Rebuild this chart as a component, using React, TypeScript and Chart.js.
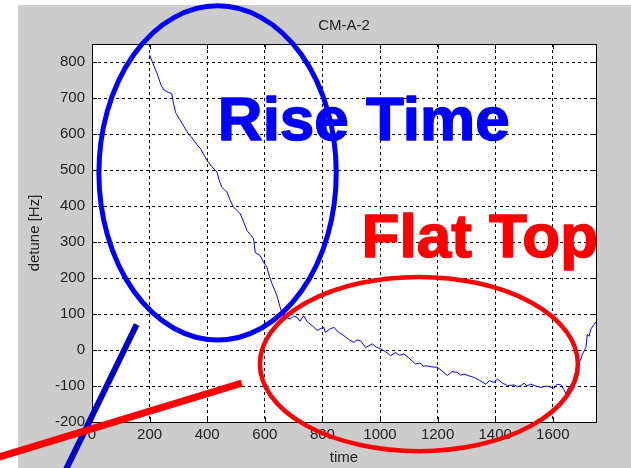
import React, { useEffect, useRef } from "react";
import { Chart, registerables } from "chart.js";

Chart.register(...registerables);

// ---- data ----
const timeValues = [
  200, 212, 225, 240, 250, 265, 277, 283, 290, 305, 320, 335, 345, 355, 365, 376, 390, 399, 415, 434,
  442, 451, 460, 469, 480, 491, 503, 515, 527, 538, 550, 561, 567, 584, 595, 607, 616, 625, 635, 642,
  650, 660, 670, 680, 689, 700, 712, 722, 735, 748, 764, 782, 795, 805, 810, 825, 840, 855, 874, 890,
  909, 920, 932, 950, 962, 973, 988, 1002, 1020, 1037, 1054, 1068, 1083, 1100, 1123, 1140, 1150, 1164, 1180, 1199,
  1215, 1234, 1250, 1268, 1280, 1292, 1310, 1326, 1345, 1367, 1380, 1395, 1408, 1425, 1443, 1465, 1478, 1489, 1500, 1510,
  1523, 1540, 1558, 1580, 1605, 1615, 1628, 1640, 1645, 1655, 1669, 1686, 1695, 1703, 1715, 1720, 1726, 1732, 1742, 1753,
];
const detuneValues = [
  820, 795, 770, 735, 722, 716, 712, 685, 660, 640, 620, 600, 592, 580, 570, 560, 540, 527, 510, 494,
  470, 452, 445, 438, 415, 397, 388, 378, 355, 332, 320, 309, 271, 262, 245, 230, 205, 184, 165, 151,
  128, 100, 92, 88, 86, 94, 91, 80, 95, 78, 68, 54, 60, 63, 49, 58, 63, 50, 40, 30,
  21, 28, 26, 7, 12, 17, 8, 3, -5, -16, -7, -15, -11, -22, -39, -36, -45, -44, -47, -48,
  -58, -71, -60, -62, -70, -67, -72, -76, -84, -95, -85, -90, -81, -92, -99, -97, -102, -99, -92, -100,
  -95, -100, -104, -100, -106, -95, -97, -112, -122, -105, -90, -39, -30, -11, 7, 44, 38, 58, 70, 81,
];

const titleText = "CM-A-2";
const xAxisLabel = "time";
const yAxisLabel = "detune [Hz]";
const xRange = [0, 1750];
const yRange = [-200, 850];
const xStep = 200;
const yStep = 100;

// annotation overlays, in data units: [cx, cy, rx, ry] and [x1, y1, x2, y2]
const riseEllipse = [436, 492, 412, 464];
const flatEllipse = [1135, -39, 552, 242];
const blueStroke = [-108, -361, 155, 71];
const redStroke = [-354, -305, 520, -92];
const riseLabel = { text: "Rise Time", x: 437, y: 583 };
const flatLabel = { text: "Flat Top", x: 936, y: 259 };

const TEXT = "#222222";
const FONT = "'Liberation Sans', Arial, sans-serif";

const framePlugin = {
  id: "matlabFrame",
  beforeDraw(chart: any) {
    const { ctx, width, height, chartArea: a } = chart;
    ctx.save();
    ctx.fillStyle = "#ffffff";
    ctx.fillRect(0, 0, width, height);
    ctx.fillStyle = "#cccccc";
    ctx.fillRect(18, 5, width - 18, height - 5);
    ctx.fillStyle = "#ffffff";
    ctx.fillRect(a.left, a.top, a.right - a.left, a.bottom - a.top);
    ctx.restore();
  },
  afterDatasetsDraw(chart: any) {
    const { ctx, chartArea: a, scales } = chart;
    const xs = scales.x;
    const ys = scales.y;
    ctx.save();
    ctx.strokeStyle = "#000000";
    ctx.lineWidth = 1;
    ctx.setLineDash([]);
    ctx.beginPath();
    const tl = 5;
    xs.ticks.forEach((t: any) => {
      const px = Math.round(xs.getPixelForValue(t.value)) + 0.5;
      ctx.moveTo(px, a.bottom);
      ctx.lineTo(px, a.bottom - tl);
      ctx.moveTo(px, a.top);
      ctx.lineTo(px, a.top + tl);
    });
    ys.ticks.forEach((t: any) => {
      const py = Math.round(ys.getPixelForValue(t.value)) + 0.5;
      ctx.moveTo(a.left, py);
      ctx.lineTo(a.left + tl, py);
      ctx.moveTo(a.right, py);
      ctx.lineTo(a.right - tl, py);
    });
    ctx.stroke();
    ctx.strokeRect(Math.round(a.left) + 0.5, Math.round(a.top) + 0.5, Math.round(a.right - a.left), Math.round(a.bottom - a.top));
    ctx.restore();
  },
  afterDraw(chart: any) {
    const { ctx, scales } = chart;
    const xs = scales.x;
    const ys = scales.y;
    const ellipse = (e: number[], color: string, w: number) => {
      const cx = xs.getPixelForValue(e[0]);
      const cy = ys.getPixelForValue(e[1]);
      const rx = xs.getPixelForValue(e[0] + e[2]) - cx;
      const ry = cy - ys.getPixelForValue(e[1] + e[3]);
      ctx.beginPath();
      ctx.ellipse(cx, cy, rx, ry, 0, 0, Math.PI * 2);
      ctx.strokeStyle = color;
      ctx.lineWidth = w;
      ctx.stroke();
    };
    const seg = (s: number[], color: string, w: number) => {
      ctx.beginPath();
      ctx.moveTo(xs.getPixelForValue(s[0]), ys.getPixelForValue(s[1]));
      ctx.lineTo(xs.getPixelForValue(s[2]), ys.getPixelForValue(s[3]));
      ctx.strokeStyle = color;
      ctx.lineWidth = w;
      ctx.lineCap = "butt";
      ctx.stroke();
    };
    const label = (l: any, color: string) => {
      ctx.font = `bold 62px ${FONT}`;
      ctx.fillStyle = color;
      ctx.strokeStyle = color;
      ctx.lineWidth = 1.5;
      ctx.lineJoin = "round";
      ctx.textAlign = "left";
      ctx.textBaseline = "alphabetic";
      const px = xs.getPixelForValue(l.x);
      const py = ys.getPixelForValue(l.y);
      ctx.fillText(l.text, px, py);
      ctx.strokeText(l.text, px, py);
    };
    ctx.save();
    ctx.setLineDash([]);
    label(riseLabel, "#0000ff");
    ellipse(riseEllipse, "#0000ff", 5);
    seg(blueStroke, "#0000cc", 6);
    label(flatLabel, "#ff0000");
    ellipse(flatEllipse, "#ff0000", 4.5);
    seg(redStroke, "#ff0000", 7);
    ctx.restore();
  },
};

export default function App() {
  const canvasRef = useRef<HTMLCanvasElement | null>(null);

  useEffect(() => {
    document.body.style.margin = "0";
    const canvas = canvasRef.current;
    if (!canvas) return;
    const points = timeValues.map((t, i) => ({ x: t, y: detuneValues[i] }));
    const plain = (v: any) => String(v);
    const chart = new Chart(canvas, {
      type: "line",
      data: {
        datasets: [
          {
            data: points,
            borderColor: "#0000ff",
            borderWidth: 1,
            pointRadius: 0,
            tension: 0,
            fill: false,
          },
        ],
      },
      options: {
        animation: false,
        responsive: false,
        devicePixelRatio: 1,
        layout: { padding: { left: 0, top: 0, right: 35, bottom: 0 } },
        plugins: {
          legend: { display: false },
          tooltip: { enabled: false },
          title: {
            display: true,
            text: titleText,
            fullSize: false,
            color: TEXT,
            font: { family: FONT, size: 15, weight: "normal" },
            padding: { top: 17, bottom: 9 },
          },
        },
        scales: {
          x: {
            type: "linear",
            min: xRange[0],
            max: xRange[1],
            ticks: {
              stepSize: xStep,
              includeBounds: false,
              color: TEXT,
              font: { family: FONT, size: 15 },
              padding: 4,
              maxRotation: 0,
              callback: plain,
            },
            grid: { color: "#000000", lineWidth: 1, drawTicks: false },
            border: { display: false, dash: [3, 3] },
            title: {
              display: true,
              text: xAxisLabel,
              color: TEXT,
              font: { family: FONT, size: 15 },
              padding: { top: 0, bottom: 1 },
            },
            afterFit: (s: any) => {
              s.height = 46;
            },
          },
          y: {
            type: "linear",
            min: yRange[0],
            max: yRange[1],
            ticks: {
              stepSize: yStep,
              includeBounds: false,
              color: TEXT,
              font: { family: FONT, size: 15 },
              padding: 7,
              callback: plain,
            },
            grid: { color: "#000000", lineWidth: 1, drawTicks: false },
            border: { display: false, dash: [3, 3] },
            title: {
              display: true,
              text: yAxisLabel,
              color: TEXT,
              font: { family: FONT, size: 15 },
              padding: { top: 26, bottom: 0 },
            },
            afterFit: (s: any) => {
              s.width = 92;
            },
          },
        },
      },
      plugins: [framePlugin],
    } as any);
    return () => chart.destroy();
  }, []);

  return <canvas ref={canvasRef} width={631} height={468} style={{ display: "block" }} />;
}
